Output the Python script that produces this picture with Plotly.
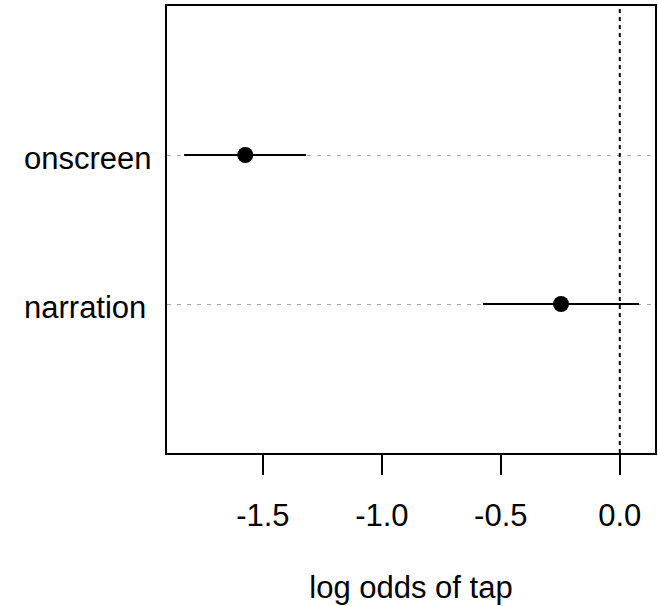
import plotly.graph_objects as go

categories = ["narration", "onscreen"]
positions = [1, 2]
estimates = [-0.247, -1.574]
lower = [-0.575, -1.831]
upper = [0.081, -1.319]
x_ticks = [-1.5, -1.0, -0.5, 0.0]
x_ticklabels = ["-1.5", "-1.0", "-0.5", "0.0"]

FONT = "Liberation Sans, Arial, Helvetica, sans-serif"

fig = go.Figure()

fig.add_trace(go.Scatter(
    x=estimates, y=positions, mode="markers",
    marker=dict(color="black", size=16),
    error_x=dict(type="data", symmetric=False,
                 array=[u - e for u, e in zip(upper, estimates)],
                 arrayminus=[e - l for e, l in zip(estimates, lower)],
                 color="black", thickness=2, width=0),
    showlegend=False, hoverinfo="skip",
))

fig.add_shape(type="line", xref="x", yref="paper", x0=0, x1=0, y0=0, y1=1,
              line=dict(color="black", width=2, dash="4px,4px"), layer="above")

for cat, pos in zip(categories, positions):
    fig.add_annotation(text=cat, xref="paper", yref="y", x=(21 - 167) / 490, y=pos,
                       xanchor="left", yanchor="middle", showarrow=False,
                       font=dict(family=FONT, size=31, color="black"), yshift=-3)

fig.update_layout(
    width=658, height=606,
    margin=dict(l=167, r=1, t=6, b=153),
    paper_bgcolor="white", plot_bgcolor="white",
    font=dict(family=FONT, size=30, color="black"),
    xaxis=dict(range=[-1.903, 0.148], tickvals=x_ticks, ticktext=x_ticklabels,
               ticks="outside", ticklen=20, tickwidth=2, tickcolor="black",
               showline=True, linewidth=2, linecolor="black", mirror=True,
               showgrid=False, zeroline=False, ticklabelstandoff=14,
               tickfont=dict(family=FONT, size=31, color="black"),
               title=dict(text="log odds of tap", standoff=44,
                          font=dict(family=FONT, size=31, color="black"))),
    yaxis=dict(range=[0, 3], tickvals=positions, showticklabels=False,
               showline=True, linewidth=2, linecolor="black", mirror=True,
               showgrid=True, gridcolor="#aaaaaa", gridwidth=1, griddash="4px,6px",
               zeroline=False, ticks=""),
)

fig.write_html("out.html")
